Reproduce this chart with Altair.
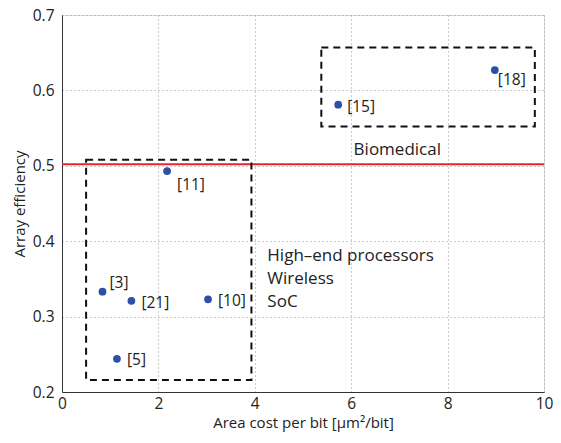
import altair as alt
import pandas as pd

# Data points
labels = ["[3]", "[21]", "[5]", "[10]", "[11]", "[15]", "[18]"]
xs = [0.84, 1.44, 1.14, 3.03, 2.18, 5.73, 8.98]
ys = [0.333, 0.321, 0.244, 0.323, 0.493, 0.581, 0.627]
label_dx = [7, 10, 10, 10, 10, 9, 3]
label_dy = [-9, 2, 1, 2, 14, 2, 10]

# Dashed boxes
box_x = [0.5, 5.38]
box_x2 = [3.93, 9.81]
box_y = [0.216, 0.552]
box_y2 = [0.508, 0.657]

# Red threshold line
threshold = 0.502

# Annotation texts
ann_text = ["Biomedical", "High\u2013end processors", "Wireless", "SoC"]
ann_x = [6.05, 4.26, 4.26, 4.26]
ann_y = [0.521, 0.380, 0.350, 0.320]

FONT = "Open Sans"

pts = pd.DataFrame({"x": xs, "y": ys, "label": labels})
boxes = pd.DataFrame({"x": box_x, "x2": box_x2, "y": box_y, "y2": box_y2})
ann = pd.DataFrame({"text": ann_text, "x": ann_x, "y": ann_y})
line = pd.DataFrame({"y": [threshold], "x": [0], "x2": [10]})

xscale = alt.Scale(domain=[0, 10], nice=False, zero=False)
yscale = alt.Scale(domain=[0.2, 0.7], nice=False, zero=False)

xaxis = alt.Axis(values=[0, 2, 4, 6, 8, 10], title="Area cost per bit [\u03bcm\u00b2/bit]",
                 grid=True, gridDash=[1, 3], gridColor="#999", gridWidth=1,
                 ticks=False, labelPadding=4, labelFontSize=15.5, titleFontSize=15,
                 titleFontWeight="normal", labelFont=FONT, titleFont=FONT,
                 domainColor="#333", labelColor="#222", titleColor="#222", titlePadding=4,
                 labelFlush=False)
yaxis = alt.Axis(values=[0.2, 0.3, 0.4, 0.5, 0.6, 0.7], format=".1f", title="Array efficiency",
                 grid=True, gridDash=[1, 3], gridColor="#999", gridWidth=1,
                 ticks=False, labelPadding=8, labelFontSize=15.5, titleFontSize=15,
                 titleFontWeight="normal", labelFont=FONT, titleFont=FONT,
                 domainColor="#333", labelColor="#222", titleColor="#222", titlePadding=5,
                 labelFlush=False)

points = alt.Chart(pts).mark_circle(size=60, color="#2d4fa6", opacity=1).encode(
    x=alt.X("x:Q", scale=xscale, axis=xaxis),
    y=alt.Y("y:Q", scale=yscale, axis=yaxis),
)

texts = []
for i in range(len(labels)):
    t = alt.Chart(pts.iloc[[i]]).mark_text(
        align="left", baseline="middle", dx=label_dx[i], dy=label_dy[i],
        fontSize=15.5, font=FONT, color="#222"
    ).encode(x=alt.X("x:Q", scale=xscale), y=alt.Y("y:Q", scale=yscale), text="label:N")
    texts.append(t)

rects = alt.Chart(boxes).mark_rect(fill=None, stroke="#111", strokeWidth=2, strokeDash=[7, 5]).encode(
    x=alt.X("x:Q", scale=xscale), x2="x2:Q",
    y=alt.Y("y:Q", scale=yscale), y2="y2:Q",
)

rule = alt.Chart(line).mark_rule(color="#e8242b", strokeWidth=2).encode(
    x=alt.X("x:Q", scale=xscale), x2="x2:Q", y=alt.Y("y:Q", scale=yscale)
)

annotations = alt.Chart(ann).mark_text(
    align="left", baseline="middle", fontSize=17, font=FONT, color="#222"
).encode(x=alt.X("x:Q", scale=xscale), y=alt.Y("y:Q", scale=yscale), text="text:N")

chart = alt.layer(rule, rects, points, *texts, annotations).properties(
    width=482, height=377,
    autosize=alt.AutoSizeParams(type="none"),
    padding={"left": 54, "top": 7, "right": 9, "bottom": 43},
).configure_view(stroke=None).configure(background="white")

chart.save("out.html", embed_options={"renderer": "svg", "actions": False})
